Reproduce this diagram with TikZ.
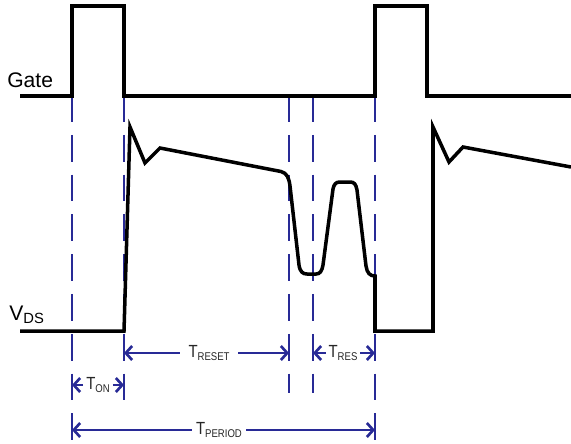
\documentclass[tikz,border=0pt]{standalone}
\usepackage{fontspec}
\setmainfont{Liberation Sans}
\newfontfamily\labfont[FakeStretch=0.85]{Liberation Sans}
\usetikzlibrary{arrows.meta}
\definecolor{dsblue}{RGB}{40,42,150}
\tikzset{
  wave/.style={line width=2.5pt, line join=miter},
  marker/.style={draw=dsblue, line width=1.8pt, dash pattern=on 19.1pt off 9.2pt},
  dimarr/.style={draw=dsblue, line width=1.9pt, -{Straight Barb[length=4.5pt,width=10pt]}},
  tlab/.style={text=black!85, inner sep=2pt, font=\labfont\fontsize{12.5}{13}\selectfont},
  biglab/.style={anchor=base west, inner sep=0pt, font=\fontsize{15}{16}\selectfont},
}
\newcommand{\tsub}[1]{T\raisebox{-.3ex}{\fontsize{8}{9}\selectfont #1}}

\begin{document}
\begin{tikzpicture}[x=0.025cm,y=-0.025cm]
\useasboundingbox (0,0) rectangle (571,443);
% dashed time markers
\foreach \name/\x/\y in {on/72/443, off/124/402, rst/289/393, res/313/393, per/375/443}{
  \coordinate (\name) at (\x,95);
  \draw[marker] (\name) -- (\x,\y);
}
% gate drive
\draw[wave] (20,96) -- (72,96) -- (72,6) -- (124,6) -- (124,96) -- (375,96)
            -- (375,6) -- (427,6) -- (427,96) -- (571,96);
% drain voltage
\draw[wave] (20,331) -- (124,331) -- (130,127) -- (145,163) -- (160,148)
   -- (281,171.5) .. controls (287,173) and (289,178) .. (290,186)
   -- (299,265) .. controls (300,272) and (303,274) .. (307,274)
   -- (316,274) .. controls (320,274) and (322,271) .. (323,265)
   -- (333,189) .. controls (334,184) and (336,182) .. (340,182)
   -- (350,182) .. controls (354,182) and (356,184) .. (357,190)
   -- (366,266) .. controls (367,273) and (370,276) .. (375,276)
   -- (375,331) -- (433,331) -- (433,127) -- (449,162) -- (463,147) -- (571,167);
\node[biglab] (gate) at (7,87) {Gate};
\node[biglab] (vds) at (9,320) {V\raisebox{-.35ex}{\fontsize{10.5}{11}\selectfont DS}};
% timing labels
\node[tlab] (ton) at (98,385) {\tsub{ON}};
\draw[dimarr] (ton.west) -- (ton.west -| on);
\draw[dimarr] (ton.east) -- (ton.east -| off);
\node[tlab, inner xsep=6pt] (treset) at (209,353) {\tsub{RESET}};
\draw[dimarr] (treset.west) -- (treset.west -| off);
\draw[dimarr] (treset.east) -- (treset.east -| rst);
\node[tlab] (tres) at (343,353) {\tsub{RES}};
\draw[dimarr] (tres.west) -- (tres.west -| res);
\draw[dimarr] (tres.east) -- (tres.east -| per);
\node[tlab, inner xsep=3pt] (tper) at (219,430) {\tsub{PERIOD}};
\draw[dimarr] (tper.west) -- (tper.west -| on);
\draw[dimarr] (tper.east) -- (tper.east -| per);
\end{tikzpicture}
\end{document}
